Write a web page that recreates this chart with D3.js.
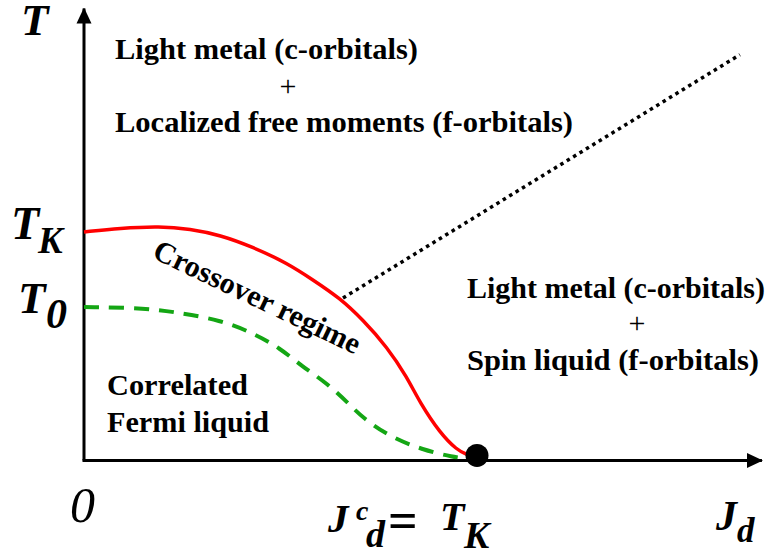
<!DOCTYPE html>
<html>
<head>
<meta charset="utf-8">
<script src="https://cdn.jsdelivr.net/npm/d3@7"></script>
<style>
  svg text { font-family: "Liberation Serif", "Times New Roman", Tinos, "Nimbus Roman", FreeSerif, Georgia, serif; }
</style>
</head>
<body style="margin:0">
<svg id="chart" width="772" height="558"></svg>
<script>
// ---- Data (x in units of J_d^c, y in units of T_K) ----
const redCrossover = [
  [0, 1.0], [0.092, 1.017], [0.193, 1.026], [0.270, 1.013], [0.346, 0.987],
  [0.430, 0.934], [0.517, 0.864], [0.583, 0.790], [0.651, 0.711], [0.710, 0.615],
  [0.771, 0.497], [0.822, 0.365], [0.855, 0.252], [0.906, 0.120], [0.949, 0.046],
  [0.975, 0.024], [1.0, 0.015]
];
const greenFermi = [
  [0, 0.672], [0.160, 0.667], [0.244, 0.646], [0.346, 0.615], [0.430, 0.558],
  [0.499, 0.492], [0.557, 0.409], [0.618, 0.339], [0.677, 0.243], [0.710, 0.186],
  [0.779, 0.103], [0.863, 0.046], [0.939, 0.015], [0.982, 0.007]
];
const dottedLine = [[0.659, 0.711], [1.669, 1.776]];
const criticalPoint = [1.0, 0.022];
const xMax = 1.725, yMax = 1.978;
const T0 = 0.672, TK = 1.0;
const topLabel = ["Light metal (c-orbitals)", "+", "Localized free moments (f-orbitals)"];
const rightLabel = ["Light metal (c-orbitals)", "+", "Spin liquid (f-orbitals)"];
const fermiLabel = ["Correlated", "Fermi liquid"];
const crossoverLabel = "Crossover regime";

const FONT = 'font-family:"Liberation Serif", "Times New Roman", Tinos, "Nimbus Roman", FreeSerif, serif';

// ---- Scales ----
const x = d3.scaleLinear().domain([0, 1]).range([84, 477]);
const y = d3.scaleLinear().domain([0, 1]).range([460.5, 232]);

const svg = d3.select("#chart");

const defs = svg.append("defs");
defs.append("marker").attr("id", "arrow").attr("viewBox", "0 0 16 16")
  .attr("refX", 15).attr("refY", 8).attr("markerWidth", 16).attr("markerHeight", 16)
  .attr("markerUnits", "userSpaceOnUse").attr("orient", "auto")
  .append("path").attr("d", "M0,0.5 L16,8 L0,15.5 Z").attr("fill", "#000");

// axes
svg.append("line").attr("x1", x(0)).attr("y1", y(0)).attr("x2", x(0)).attr("y2", y(yMax))
  .attr("stroke", "#000").attr("stroke-width", 3).attr("marker-end", "url(#arrow)");
svg.append("line").attr("x1", x(0) - 1.5).attr("y1", y(0)).attr("x2", x(xMax)).attr("y2", y(0))
  .attr("stroke", "#000").attr("stroke-width", 3).attr("marker-end", "url(#arrow)");

const line = d3.line().x(d => x(d[0])).y(d => y(d[1])).curve(d3.curveBasis);

// dotted line
svg.append("path").attr("d", d3.line().x(d => x(d[0])).y(d => y(d[1]))(dottedLine))
  .attr("fill", "none").attr("stroke", "#000").attr("stroke-width", 3.5)
  .attr("stroke-dasharray", "3.5,4");

// green dashed
svg.append("path").attr("d", line(greenFermi)).attr("fill", "none")
  .attr("stroke", "#14a614").attr("stroke-width", 4).attr("stroke-dasharray", "15,10");

// red solid
svg.append("path").attr("d", line(redCrossover)).attr("fill", "none")
  .attr("stroke", "#ff0000").attr("stroke-width", 3.5);

// critical point
svg.append("circle").attr("cx", x(criticalPoint[0])).attr("cy", y(criticalPoint[1]))
  .attr("r", 11.5).attr("fill", "#000");

// region labels
function block(lines, xs, ys, widths) {
  lines.forEach((t, i) => {
    const el = svg.append("text").attr("x", xs[i]).attr("y", ys[i])
      .attr("font-size", 30)
      .attr("text-anchor", t === "+" ? "middle" : "start")
      .attr("font-weight", t === "+" ? "normal" : "bold")
      .attr("style", FONT)
      .text(t);
    if (widths && widths[i]) el.attr("textLength", widths[i]).attr("lengthAdjust", "spacingAndGlyphs");
  });
}
block(topLabel, [115, 288, 115], [59, 96, 132], [303, 0, 458]);
block(rightLabel, [467, 637, 467], [298, 333, 370], [298, 0, 292]);
block(fermiLabel, [107, 107], [395, 432], [141, 162]);

svg.append("text").attr("transform", "translate(253,306) rotate(25.5)")
  .attr("text-anchor", "middle").attr("font-size", 30).attr("font-weight", "bold")
  .attr("style", FONT)
  .attr("textLength", 226).attr("lengthAdjust", "spacingAndGlyphs")
  .text(crossoverLabel);

// axis labels (math)
function mt(str, xx, yy, size, opts = {}) {
  svg.append("text").attr("x", xx).attr("y", yy).attr("font-size", size)
    .attr("font-weight", opts.weight || "bold")
    .attr("font-style", opts.style || "italic")
    .attr("style", FONT)
    .text(str);
}
mt("T", 21, 35, 45);
mt("T", 11, y(TK) + 7, 46);
mt("K", 38, y(TK) + 21, 37);
mt("T", 18, y(T0) + 6, 45);
mt("0", 46, y(T0) + 21, 42);
mt("0", 70, 522, 50, { weight: "normal" });
mt("J", 328, 532, 41);
mt("c", 356, 520, 28);
mt("d", 366, 547, 38);
mt("=", 388, 538, 52, { style: "normal" });
mt("T", 440, 530, 40);
mt("K", 464, 548, 38);
mt("J", 716, 530, 42);
mt("d", 737, 542, 35);
</script>
</body>
</html>
